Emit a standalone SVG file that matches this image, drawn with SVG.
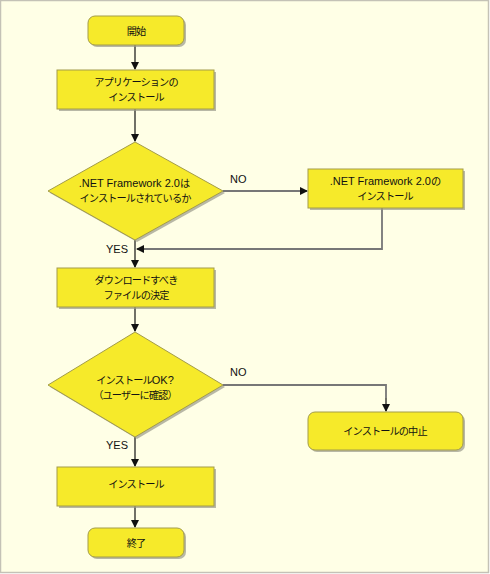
<svg xmlns="http://www.w3.org/2000/svg" width="490" height="574" viewBox="0 0 490 574">
<style>
.n{fill:#F6EA2A;stroke:#A39C4A;stroke-width:1}
.sh{fill:#9A9A8A;opacity:0.7}
.t{font-family:"Liberation Sans","Noto Sans CJK JP",sans-serif;font-size:11px;fill:#111;text-anchor:middle}
.j{font-size:10.2px;letter-spacing:-0.9px}
.l{font-family:"Liberation Sans","Noto Sans CJK JP",sans-serif;font-size:11px;fill:#111}
.a{stroke:#111;stroke-width:1.2;fill:none}
.g{stroke:#777;stroke-width:1.8;fill:none}
</style>
<defs>
<marker id="ar" markerWidth="10" markerHeight="10" refX="8" refY="5" orient="auto" markerUnits="userSpaceOnUse">
<path d="M1,1 L9,5 L1,9 Z" fill="#111"/>
</marker>
</defs>
<rect x="0.5" y="0.5" width="488" height="572" fill="#FFFFE6" stroke="#C4C2B6" stroke-width="1.5"/>
<g id="connectors">
<line class="a" x1="135" y1="45" x2="135" y2="69" marker-end="url(#ar)"/>
<line class="a" x1="135" y1="109" x2="135" y2="141" marker-end="url(#ar)"/>
<polyline class="g" points="223,191 300,191"/>
<line class="a" x1="300" y1="191" x2="307" y2="191" marker-end="url(#ar)"/>
<polyline class="g" points="382,208 382,249 145,249"/>
<line class="a" x1="145" y1="249" x2="137" y2="249" marker-end="url(#ar)"/>
<line class="a" x1="135" y1="240" x2="135" y2="267" marker-end="url(#ar)"/>
<line class="a" x1="135" y1="307" x2="135" y2="331" marker-end="url(#ar)"/>
<polyline class="g" points="223,385 386,385 386,398"/>
<line class="a" x1="386" y1="398" x2="386" y2="411" marker-end="url(#ar)"/>
<line class="a" x1="135" y1="437" x2="135" y2="466" marker-end="url(#ar)"/>
<line class="a" x1="135" y1="506" x2="135" y2="527" marker-end="url(#ar)"/>
<text class="l" x="230" y="183">NO</text>
<text class="l" x="106" y="253">YES</text>
<text class="l" x="230" y="376">NO</text>
<text class="l" x="106" y="449">YES</text>
</g>
<g id="start">
<rect class="sh" x="90" y="18" width="96" height="29" rx="7"/>
<rect class="n" x="88" y="16" width="96" height="29" rx="7"/>
<text class="t j" x="136" y="35">開始</text>
</g>
<g id="app">
<rect class="sh" x="59" y="72" width="157" height="39"/>
<rect class="n" x="57" y="70" width="157" height="39"/>
<text class="t j" x="136" y="86">アプリケーションの</text>
<text class="t j" x="136" y="101">インストール</text>
</g>
<g id="dec1">
<polygon class="sh" points="137,144 225,193 137,242 50,193"/>
<polygon class="n" points="135,142 223,191 135,240 48,191"/>
<text class="t" x="134" y="187">.NET Framework 2.0<tspan class="j">は</tspan></text>
<text class="t j" x="135" y="202">インストールされているか</text>
</g>
<g id="net">
<rect class="sh" x="310" y="171" width="155" height="39"/>
<rect class="n" x="308" y="169" width="155" height="39"/>
<text class="t" x="385" y="185">.NET Framework 2.0<tspan class="j">の</tspan></text>
<text class="t j" x="385" y="200">インストール</text>
</g>
<g id="decide">
<rect class="sh" x="59" y="270" width="157" height="39"/>
<rect class="n" x="57" y="268" width="157" height="39"/>
<text class="t j" x="136" y="284">ダウンロードすべき</text>
<text class="t j" x="136" y="299">ファイルの決定</text>
</g>
<g id="dec2">
<polygon class="sh" points="137,334 225,387 137,439 50,387"/>
<polygon class="n" points="135,332 223,385 135,437 48,385"/>
<text class="t" x="135" y="384"><tspan class="j">インストール</tspan>OK?</text>
<text class="t j" x="135" y="399">（ユーザーに確認）</text>
</g>
<g id="abort">
<rect class="sh" x="310" y="414" width="155" height="38" rx="7"/>
<rect class="n" x="308" y="412" width="155" height="38" rx="7"/>
<text class="t j" x="385" y="435">インストールの中止</text>
</g>
<g id="install">
<rect class="sh" x="59" y="469" width="157" height="39"/>
<rect class="n" x="57" y="467" width="157" height="39"/>
<text class="t j" x="136" y="488">インストール</text>
</g>
<g id="end">
<rect class="sh" x="90" y="530" width="96" height="29" rx="7"/>
<rect class="n" x="88" y="528" width="96" height="29" rx="7"/>
<text class="t j" x="136" y="547">終了</text>
</g>
</svg>
